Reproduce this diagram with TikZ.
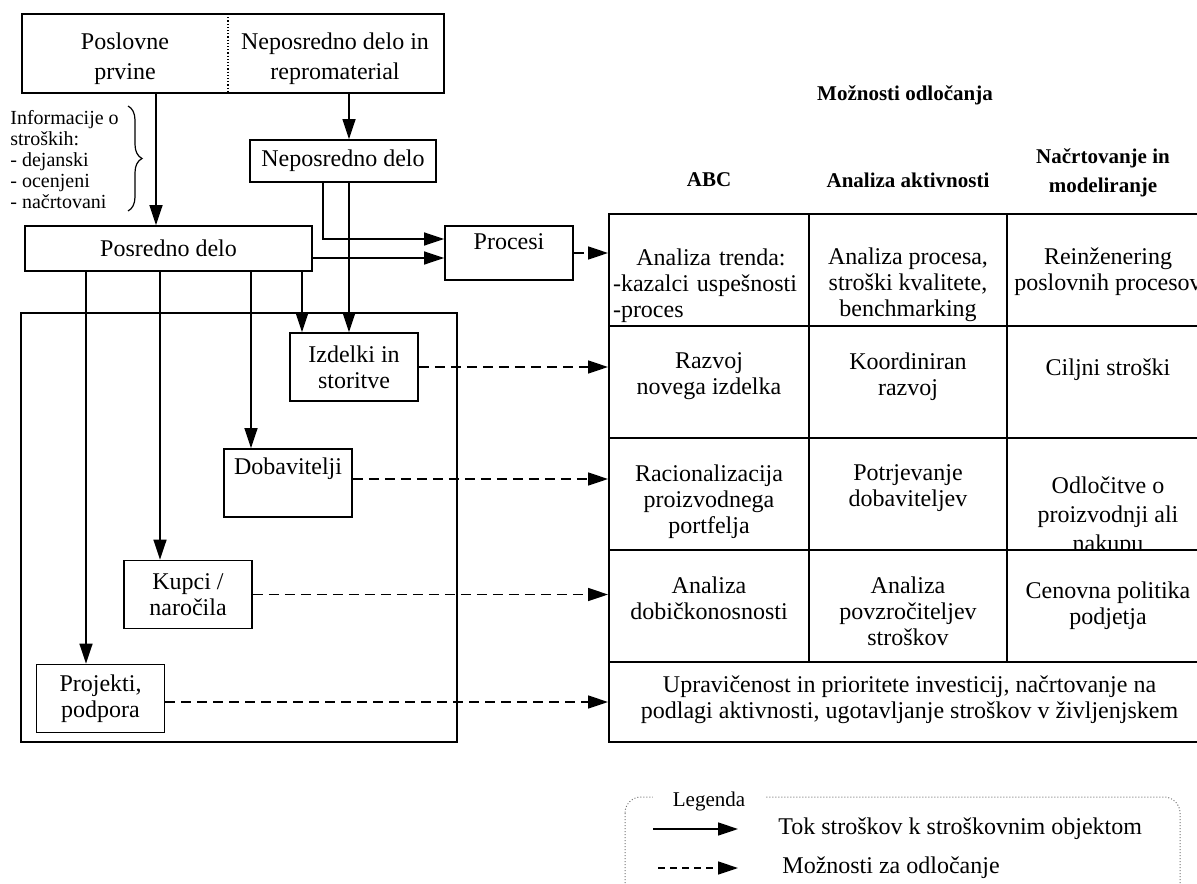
\documentclass[tikz,border=0pt]{standalone}
\usepackage{fontspec}
\setmainfont{Liberation Serif}
\usetikzlibrary{arrows.meta}
\usetikzlibrary{calc}
\usetikzlibrary{positioning, decorations.pathreplacing}

\begin{document}
\begin{tikzpicture}[x=0.5pt, y=-0.5pt,
              every node/.style={font=\fontsize{12}{13}\selectfont, inner sep=0pt, align=center},
              box/.style={draw, line width=0.9pt, minimum width=64pt, minimum height=34pt},
              flow/.style={line width=0.8pt, -{Triangle[length=10pt, width=6.5pt]}},
              option/.style={flow, dash pattern=on 5pt off 3pt},
              tabline/.style={line width=1pt},
              cell/.style={anchor=north, execute at begin node=\strut},
              head/.style={font=\fontsize{10.5}{14.5}\selectfont\bfseries}]
              \useasboundingbox (0,0) rectangle (1197,883);
              \clip (0,0) rectangle (1197,883);

              \node[box, draw=none, minimum width=102pt, minimum height=38.5pt, font=\fontsize{12}{15}\selectfont] (poslovne) at (125,53.5) {\rule{0pt}{14pt}Poslovne\\prvine};
              \node[box, draw=none, minimum width=108pt, minimum height=38.5pt, font=\fontsize{12}{15}\selectfont] (repro) at (335,53.5) {\rule{0pt}{14pt}Neposredno delo in\\repromaterial};
              \draw[line width=0.9pt] (poslovne.north west) rectangle (repro.south east);
              \draw[densely dotted, line width=0.6pt] (poslovne.north east) -- (poslovne.south east);

              \node[anchor=north west, align=left, font=\fontsize{10}{10.5}\selectfont] (info) at (10,110) {Informacije o\\stroških:\\- dejanski\\- ocenjeni\\- načrtovani};
              \draw[line width=0.6pt, decorate, decoration={brace, amplitude=7pt}] (128,106) -- (128,211);

              \node[box, minimum width=93pt, minimum height=21pt] (neposredno) at (343,161) {Neposredno delo};
              \node[box, minimum width=143.5pt, minimum height=22.5pt] (posredno) at (168.5,248.5) {Posredno delo};
              \node[box, minimum height=27pt] (procesi) at (509,253) {Procesi\\[-2pt]\mbox{}};

              \draw[line width=0.8pt] (21,313) rectangle (457,742);
              \node[box] (izdelki) at (354,367) {Izdelki in\\storitve};
              \node[box] (dobavitelji) at (288,483) {Dobavitelji\\[4pt]\mbox{}};
              \node[box] (kupci) at (188,594.5) {Kupci /\\naročila};
              \node[box] (projekti) at (100.5,698.5) {Projekti,\\podpora};

              \draw[flow] ([xshift=15.5pt]poslovne.south) -- ([xshift=15.5pt]poslovne.south |- posredno.north);
              \draw[flow] ([xshift=7pt]repro.south) -- ([xshift=7pt]repro.south |- neposredno.north);
              \draw[flow] ([xshift=-10pt]neposredno.south) |- ([yshift=7pt]procesi.west);
              \draw[flow] ([yshift=-4.75pt]posredno.east) -- ([yshift=-4.75pt]posredno.east -| procesi.west);
              \draw[flow] ([xshift=3pt]neposredno.south) -- ([xshift=3pt]neposredno.south |- izdelki.north);
              \draw[flow] ([xshift=66.75pt]posredno.south) -- ([xshift=66.75pt]posredno.south |- izdelki.north);
              \draw[flow] ([xshift=41.25pt]posredno.south) -- ([xshift=41.25pt]posredno.south |- dobavitelji.north);
              \draw[flow] ([xshift=-4.25pt]posredno.south) -- ([xshift=-4.25pt]posredno.south |- kupci.north);
              \draw[flow] ([xshift=-41.25pt]posredno.south) -- ([xshift=-41.25pt]posredno.south |- projekti.north);

              \node[head] (moznosti) at (905,95) {Možnosti odločanja};
              \node[head] (abc) at (709,180) {ABC};
              \node[head] (aktivnosti) at (908,180) {Analiza aktivnosti};
              \node[head] (nacrtovanje) at (1103,173) {Načrtovanje in\\modeliranje};

              \node[draw, tabline, minimum width=300.5pt, minimum height=264pt] (tabela) at (909.5,478) {};
              \foreach \y in {326,438,550,662}
                \draw[tabline] (609,\y) -- (1210,\y);
              \foreach \x in {809,1007}
                \draw[tabline] (\x,214) -- (\x,662);

              \node[cell, align=left, text width=98pt] (trend) at (711,247) {\centering Analiza trenda:\par\raggedright -kazalci uspešnosti\par -proces};
              \node[cell] (procanal) at (908,247) {Analiza procesa,\\stroški kvalitete,\\benchmarking};
              \node[cell] (reinz) at (1108,247) {Reinženering\\poslovnih procesov};
              \node[cell] (razvoj) at (709,352) {Razvoj\\novega izdelka};
              \node[cell] (koord) at (908,352) {Koordiniran\\razvoj};
              \node[cell] (ciljni) at (1108,357) {Ciljni stroški};
              \node[cell] (racio) at (709,464) {Racionalizacija\\proizvodnega\\portfelja};
              \node[cell] (potrj) at (908,464) {Potrjevanje\\dobaviteljev};
              \begin{scope}
                \clip (1007,438) rectangle (1210,550);
                \node[cell, font=\fontsize{12}{14.5}\selectfont] (odloc) at (1108,476) {Odločitve o\\proizvodnji ali\\nakupu};
              \end{scope}
              \node[cell] (dobic) at (709,576) {Analiza\\dobičkonosnosti};
              \node[cell] (povzr) at (908,576) {Analiza\\povzročiteljev\\stroškov};
              \node[cell] (cenovna) at (1108,581) {Cenovna politika\\podjetja};
              \node[cell] (upravic) at (909.5,675) {Upravičenost in prioritete investicij, načrtovanje na\\podlagi aktivnosti, ugotavljanje stroškov v življenjskem};

              \draw[option] (procesi.east) -- (procesi.east -| tabela.west);
              \draw[option] (izdelki.east) -- (izdelki.east -| tabela.west);
              \draw[option] ([yshift=2pt]dobavitelji.east) -- ([yshift=2pt]dobavitelji.east -| tabela.west);
              \draw[option] (kupci.east) -- (kupci.east -| tabela.west);
              \draw[option] ([yshift=-1.75pt]projekti.east) -- ([yshift=-1.75pt]projekti.east -| tabela.west);

              \draw[black!55, densely dotted, line width=0.5pt, rounded corners=8pt] (625,797) rectangle (1180,900);
              \node[fill=white, inner xsep=10pt, inner ysep=1pt, font=\fontsize{10.5}{12}\selectfont] (legenda) at (709,801) {Legenda};
              \node[anchor=west] (tok) at (778,829) {Tok stroškov k stroškovnim objektom};
              \node[anchor=west] (odlocanje) at (782,868) {Možnosti za odločanje};
              \draw[flow] ([xshift=-62.5pt]tok.west) -- ([xshift=-20pt]tok.west);
              \draw[option, dash pattern=on 3.5pt off 2.5pt] ([xshift=-62pt]odlocanje.west) -- ([xshift=-22pt]odlocanje.west);
            \end{tikzpicture}
\end{document}
